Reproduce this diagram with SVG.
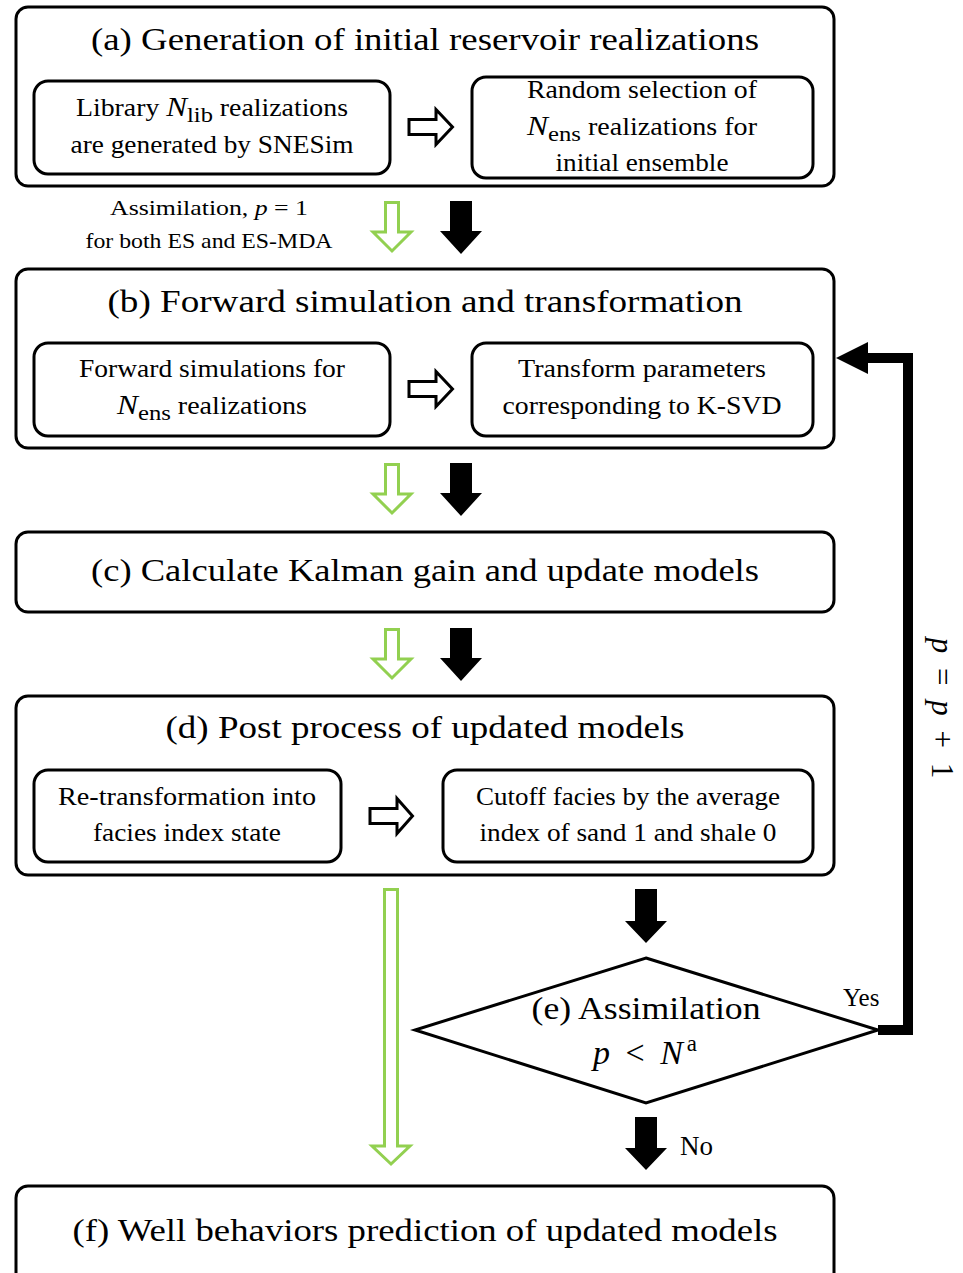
<svg xmlns="http://www.w3.org/2000/svg" width="963" height="1273" viewBox="0 0 963 1273">
<style>
text{font-family:"Liberation Serif","DejaVu Serif",serif;fill:#000}
.t{font-size:32px;text-anchor:middle}
.s{font-size:25px;text-anchor:middle}
.m{font-style:italic}
.box{fill:#fff;stroke:#000;stroke-width:3}
.hol{fill:#fff;stroke:#000;stroke-width:3;stroke-linejoin:miter}
.grn{fill:#fff;stroke:#92D050;stroke-width:3;stroke-linejoin:miter}
.blk{fill:#000;stroke:none}
</style>
<rect width="963" height="1273" fill="#fff"/>

<g id="node-a">
<rect class="box" x="16" y="7" width="818" height="179" rx="12"/>
<text class="t" x="425" y="50" textLength="668" lengthAdjust="spacingAndGlyphs">(a) Generation of initial reservoir realizations</text>
<rect class="box" x="34" y="81" width="356" height="93" rx="14"/>
<text class="s" x="212" y="116" textLength="272" lengthAdjust="spacingAndGlyphs">Library <tspan class="m" font-size="28">N</tspan><tspan font-size="22" dy="6">lib</tspan><tspan dy="-6"> realizations</tspan></text>
<text class="s" x="212" y="153" textLength="283" lengthAdjust="spacingAndGlyphs">are generated by SNESim</text>
<rect class="box" x="472" y="77" width="341" height="101" rx="14"/>
<text class="s" x="642" y="98" textLength="230" lengthAdjust="spacingAndGlyphs">Random selection of</text>
<text class="s" x="642" y="135" textLength="230" lengthAdjust="spacingAndGlyphs"><tspan class="m" font-size="28">N</tspan><tspan font-size="22" dy="6">ens</tspan><tspan dy="-6"> realizations for</tspan></text>
<text class="s" x="642" y="171" textLength="173" lengthAdjust="spacingAndGlyphs">initial ensemble</text>
<polygon class="hol" points="409,119.5 436,119.5 436,109.5 452.5,127 436,144.5 436,134.5 409,134.5"/>
</g>

<g id="node-b">
<rect class="box" x="16" y="269" width="818" height="179" rx="12"/>
<text class="t" x="425" y="312" textLength="635" lengthAdjust="spacingAndGlyphs">(b) Forward simulation and transformation</text>
<rect class="box" x="34" y="343" width="356" height="93" rx="14"/>
<text class="s" x="212" y="377" textLength="266" lengthAdjust="spacingAndGlyphs">Forward simulations for</text>
<text class="s" x="212" y="414" textLength="190" lengthAdjust="spacingAndGlyphs"><tspan class="m" font-size="28">N</tspan><tspan font-size="22" dy="6">ens</tspan><tspan dy="-6"> realizations</tspan></text>
<rect class="box" x="472" y="343" width="341" height="93" rx="14"/>
<text class="s" x="642" y="377" textLength="248" lengthAdjust="spacingAndGlyphs">Transform parameters</text>
<text class="s" x="642" y="414" textLength="279" lengthAdjust="spacingAndGlyphs">corresponding to K-SVD</text>
<polygon class="hol" points="409,381.5 436,381.5 436,371.5 452.5,389 436,406.5 436,396.5 409,396.5"/>
</g>

<g id="node-c">
<rect class="box" x="16" y="532" width="818" height="80" rx="12"/>
<text class="t" x="425" y="581" textLength="668" lengthAdjust="spacingAndGlyphs">(c) Calculate Kalman gain and update models</text>
</g>

<g id="node-d">
<rect class="box" x="16" y="696" width="818" height="179" rx="12"/>
<text class="t" x="425" y="738" textLength="519" lengthAdjust="spacingAndGlyphs">(d) Post process of updated models</text>
<rect class="box" x="34" y="770" width="307" height="92" rx="14"/>
<text class="s" x="187" y="805" textLength="258" lengthAdjust="spacingAndGlyphs">Re-transformation into</text>
<text class="s" x="187" y="841" textLength="188" lengthAdjust="spacingAndGlyphs">facies index state</text>
<rect class="box" x="443" y="770" width="370" height="92" rx="14"/>
<text class="s" x="628" y="805" textLength="304" lengthAdjust="spacingAndGlyphs">Cutoff facies by the average</text>
<text class="s" x="628" y="841" textLength="297" lengthAdjust="spacingAndGlyphs">index of sand 1 and shale 0</text>
<polygon class="hol" points="370,808.5 397,808.5 397,798.5 412.5,816 397,833.5 397,823.5 370,823.5"/>
</g>

<g id="node-e">
<polygon class="box" points="646,958 878,1030 646,1103 415,1030"/>
<text class="t" x="646" y="1019" textLength="229" lengthAdjust="spacingAndGlyphs">(e) Assimilation</text>
<text x="645" y="1064" font-size="34" text-anchor="middle"><tspan class="m">p</tspan><tspan dx="7"> &lt; </tspan><tspan class="m" dx="7">N</tspan><tspan font-size="23" dx="4" dy="-13">a</tspan></text>
</g>

<g id="node-f">
<rect class="box" x="16" y="1186" width="818" height="110" rx="12"/>
<text class="t" x="425" y="1241" textLength="705" lengthAdjust="spacingAndGlyphs">(f) Well behaviors prediction of updated models</text>
</g>

<g id="connectors">
<text x="209" y="215" font-size="22" text-anchor="middle" textLength="198" lengthAdjust="spacingAndGlyphs">Assimilation, <tspan class="m">p</tspan> = 1</text>
<text x="209" y="248" font-size="22" text-anchor="middle" textLength="247" lengthAdjust="spacingAndGlyphs">for both ES and ES-MDA</text>

<polygon class="grn" points="385.5,202.5 398.5,202.5 398.5,232 411,232 392,251 373,232 385.5,232"/>
<polygon class="blk" points="450,201 472,201 472,231 482,231 461,254 440,231 450,231"/>

<polygon class="grn" points="385.5,464.5 398.5,464.5 398.5,494 411,494 392,513 373,494 385.5,494"/>
<polygon class="blk" points="450,463 472,463 472,493 482,493 461,516 440,493 450,493"/>

<polygon class="grn" points="385.5,629.5 398.5,629.5 398.5,659 411,659 392,678 373,659 385.5,659"/>
<polygon class="blk" points="450,628 472,628 472,658 482,658 461,681 440,658 450,658"/>

<polygon class="grn" points="384.5,889.5 397.5,889.5 397.5,1146 410,1146 391,1164 372,1146 384.5,1146"/>

<polygon class="blk" points="635,889 657,889 657,921 667,921 646,943 625,921 635,921"/>
<polygon class="blk" points="635,1117 657,1117 657,1148 667,1148 646,1170 625,1148 635,1148"/>
<text x="680" y="1155" font-size="27">No</text>

<polyline points="878,1030 908,1030 908,358 866,358" fill="none" stroke="#000" stroke-width="10" stroke-linejoin="miter"/>
<polygon class="blk" points="836,358 868,342 868,374"/>
<text x="843" y="1006" font-size="25">Yes</text>
<text x="932" y="708" font-size="31" text-anchor="middle" transform="rotate(90 932 708)"><tspan class="m">p</tspan><tspan dx="7"> = </tspan><tspan class="m" dx="7">p</tspan><tspan dx="7"> + </tspan><tspan dx="7">1</tspan></text>
</g>
</svg>
